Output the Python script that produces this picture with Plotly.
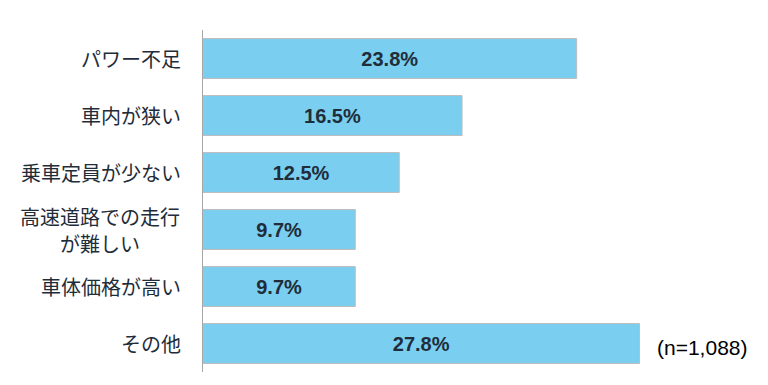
import plotly.graph_objects as go

categories = ["パワー不足", "車内が狭い", "乗車定員が少ない", "高速道路での走行<br>が難しい", "車体価格が高い", "その他"]
values = [23.8, 16.5, 12.5, 9.7, 9.7, 27.8]
value_labels = ["23.8%", "16.5%", "12.5%", "9.7%", "9.7%", "27.8%"]
note = "(n=1,088)"

fig = go.Figure(go.Bar(
    y=categories, x=values, orientation="h",
    text=["<b>%s</b>" % t for t in value_labels], textposition="inside", insidetextanchor="middle",
    textfont=dict(family="Liberation Sans", size=20, color="#1F2D3A"),
    marker=dict(color="#7ACEEF", line=dict(color="#BDBDBD", width=1)),
    width=0.7,
))
fig.update_layout(
    width=768, height=385, margin=dict(l=195, r=102, t=22, b=21),
    plot_bgcolor="white", paper_bgcolor="white", showlegend=False,
    bargap=0.3,
    xaxis=dict(range=[0, 30], visible=False, automargin=False),
    yaxis=dict(autorange="reversed", showline=True, linecolor="#A6A6A6", linewidth=1,
               ticks="", showticklabels=False, automargin=False),
)
label_font = dict(family="Noto Sans CJK JP", size=20, color="#1F2D3A")
for c in categories:
    lines = c.split("<br>")
    if len(lines) == 1:
        fig.add_annotation(text=c, xref="paper", yref="y", x=0, y=c, xanchor="right", yanchor="middle",
                           xshift=-20, showarrow=False, font=label_font)
    else:
        n = len(lines)
        for i, ln in enumerate(lines):
            fig.add_annotation(text=ln, xref="paper", yref="y", x=0, y=c, xanchor="right", yanchor="middle",
                               xshift=-20, yshift=(n - 1) / 2 * 27 - i * 27, width=162, align="center",
                               showarrow=False, font=label_font)
fig.add_annotation(text=note, xref="paper", yref="y", x=1.0, y=categories[-1], xanchor="left", yanchor="middle",
                   xshift=-19, yshift=-4, showarrow=False,
                   font=dict(family="Liberation Sans", size=21, color="#000000"))
fig.write_html("out.html")
